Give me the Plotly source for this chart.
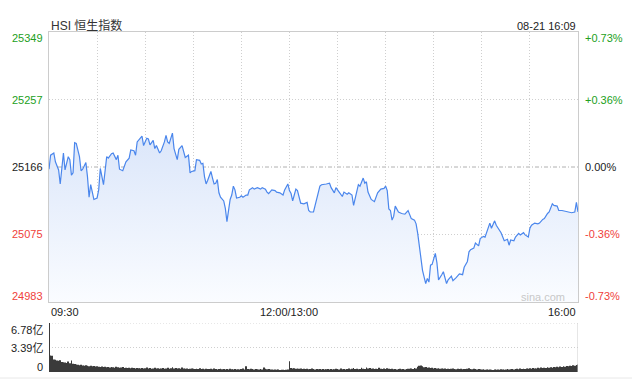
import plotly.graph_objects as go

# ---------------- data ----------------
TITLE = "HSI 恒生指数"
STAMP = "08-21 16:09"
PREV_CLOSE = 25166
Y_MIN, Y_MAX = 24983, 25349
LEFT_TICKS = [25349, 25257, 25166, 25075, 24983]
RIGHT_TICKS = ["+0.73%", "+0.36%", "0.00%", "-0.36%", "-0.73%"]
X_LABELS = ["09:30", "12:00/13:00", "16:00"]
X_LABEL_POS = [0, 150, 330]          # trading minutes since 09:30
VOL_MAX = 6.78
VOL_TICKS = ["6.78亿", "3.39亿", "0"]
VOL_TICK_VALS = [6.78, 3.39, 0]

# trading minute (0 = 09:30, 150 = 12:00/13:00, 330 = 16:00)
TIME_MIN = [0, 1, 3, 4, 6, 7, 9, 10, 12, 13, 14, 15, 16, 17, 19, 20, 21, 23, 24, 25,
            26, 27, 28, 30, 31, 32, 34, 36, 37, 39, 40, 42, 43, 44, 46, 48, 50, 51, 53, 54,
            55, 58, 59, 61, 62, 63, 65, 66, 67, 69, 70, 72, 73, 74, 75, 77, 78, 80, 81, 83,
            84, 85, 87, 88, 89, 91, 92, 94, 95, 96, 97, 98, 99, 101, 102, 103, 104, 105, 106, 107,
            109, 110, 111, 112, 113, 114, 115, 116, 117, 119, 120, 121, 123, 124, 125, 127, 128, 130, 132, 133,
            135, 136, 137, 139, 141, 142, 144, 146, 147, 149, 150, 151, 152, 153, 154, 155, 156, 157, 159, 161,
            162, 163, 165, 166, 167, 169, 170, 172, 173, 175, 176, 178, 179, 181, 183, 184, 186, 187, 189, 190,
            192, 193, 194, 196, 197, 198, 199, 200, 201, 203, 204, 205, 207, 209, 210, 211, 212, 213, 214, 215,
            216, 218, 220, 222, 224, 225, 226, 228, 229, 230, 231, 232, 233, 235, 236, 237, 238, 239, 240, 241,
            242, 243, 245, 246, 248, 249, 251, 252, 254, 255, 256, 258, 259, 261, 262, 263, 265, 266, 268, 269,
            271, 272, 274, 275, 276, 278, 279, 281, 282, 284, 286, 287, 288, 290, 291, 293, 294, 296, 297, 299,
            300, 301, 303, 305, 306, 308, 309, 311, 312, 314, 315, 317, 318, 320, 322, 324, 326, 328, 329, 330]

PRICE = [25163, 25182, 25185, 25173, 25162, 25143, 25185, 25162, 25180, 25176, 25155, 25158, 25199, 25198, 25180, 25161, 25163, 25172, 25153, 25125,
         25142, 25130, 25122, 25124, 25135, 25164, 25142, 25180, 25178, 25184, 25185, 25176, 25182, 25163, 25161, 25173, 25178, 25189, 25188, 25182,
         25200, 25208, 25195, 25205, 25204, 25196, 25202, 25191, 25195, 25185, 25188, 25200, 25209, 25200, 25198, 25212, 25191, 25176, 25190, 25195,
         25187, 25179, 25182, 25158, 25160, 25161, 25176, 25175, 25170, 25171, 25153, 25143, 25148, 25160, 25151, 25143, 25144, 25149, 25131, 25125,
         25120, 25110, 25092, 25108, 25122, 25128, 25140, 25135, 25124, 25125, 25127, 25125, 25128, 25128, 25135, 25138, 25136, 25138, 25136, 25138,
         25136, 25132, 25130, 25135, 25134, 25132, 25131, 25128, 25135, 25143, 25134, 25130, 25120, 25128, 25136, 25134, 25125, 25117, 25116, 25118,
         25107, 25105, 25105, 25114, 25124, 25140, 25142, 25142, 25143, 25144, 25138, 25131, 25138, 25132, 25126, 25132, 25129, 25131, 25128, 25114,
         25135, 25142, 25140, 25151, 25144, 25146, 25132, 25126, 25122, 25119, 25126, 25131, 25136, 25137, 25140, 25134, 25109, 25107, 25094, 25099,
         25113, 25105, 25103, 25102, 25107, 25102, 25096, 25094, 25089, 25076, 25058, 25044, 25026, 25008, 25015, 25010, 25033, 25034, 25042, 25049,
         25036, 25013, 25020, 25024, 25008, 25013, 25018, 25012, 25016, 25018, 25021, 25020, 25030, 25038, 25051, 25054, 25056, 25063, 25059, 25069,
         25072, 25071, 25082, 25090, 25083, 25093, 25087, 25081, 25077, 25066, 25068, 25060, 25067, 25066, 25071, 25076, 25074, 25077, 25074, 25071,
         25083, 25087, 25090, 25089, 25090, 25095, 25096, 25103, 25105, 25116, 25114, 25113, 25107, 25107, 25106, 25106, 25104, 25105, 25118, 25105]

# volume per trading minute, in 亿 (minute 0 .. 330)
VOLUME = [6.78,
          2.30, 2.25, 1.72, 1.68, 1.60, 1.55, 1.62, 1.40, 1.35,
          1.30, 1.25, 1.45, 1.20, 1.58, 1.15, 1.10, 1.05, 1.00, 0.95,
          1.02, 0.90, 0.88, 0.92, 0.85, 0.80, 0.86, 0.78, 0.82, 0.75,
          0.80, 0.72, 0.70, 0.76, 0.68, 0.74, 0.66, 0.70, 0.62, 0.68,
          0.65, 0.60, 0.72, 0.64, 0.58, 0.62, 0.70, 0.56, 0.60, 0.55,
          0.58, 0.52, 0.60, 0.55, 0.50, 0.57, 0.53, 0.48, 0.55, 0.50,
          0.52, 0.62, 0.48, 0.54, 0.46, 0.50, 0.58, 0.47, 0.52, 0.45,
          0.50, 0.55, 0.44, 0.48, 0.60, 0.46, 0.52, 0.66, 0.50, 0.55,
          0.48, 0.52, 0.45, 0.62, 0.50, 0.44, 0.48, 0.42, 0.46, 0.50,
          0.44, 0.40, 0.46, 0.42, 0.52, 0.40, 0.44, 0.38, 0.46, 0.42,
          0.40, 0.44, 0.38, 0.50, 0.42, 0.36, 0.40, 0.46, 0.38, 0.42,
          0.36, 0.40, 0.34, 0.44, 0.38, 0.36, 0.40, 0.34, 0.38, 0.36,
          0.40, 0.48, 0.36, 0.78, 0.42, 0.38, 0.46, 0.40, 0.36, 0.42,
          0.38, 0.34, 0.40, 0.36, 0.62, 0.44, 0.38, 0.42, 0.36, 0.34,
          0.32, 0.36, 0.30, 0.34, 0.28, 0.32, 0.30, 0.26, 0.30, 0.34,
          1.48,
          0.55, 0.48, 0.52, 0.46, 0.50, 0.44, 0.48, 0.42, 0.46,
          0.40, 0.44, 0.38, 0.42, 0.50, 0.40, 0.36, 0.42, 0.38, 0.40,
          0.36, 0.40, 0.34, 0.38, 0.42, 0.36, 0.40, 0.34, 0.38, 0.44,
          0.40, 0.36, 0.48, 0.38, 0.42, 0.36, 0.40, 0.50, 0.38, 0.44,
          0.54, 0.40, 0.46, 0.38, 0.42, 0.58, 0.44, 0.40, 0.62, 0.48,
          0.56, 0.44, 0.50, 0.40, 0.46, 0.42, 0.60, 0.44, 0.40, 0.48,
          0.42, 0.52, 0.46, 0.40, 0.44, 0.38, 0.42, 0.36, 0.40, 0.44,
          0.38, 0.42, 0.36, 0.40, 0.46, 0.44, 0.50, 0.42, 0.56, 0.48,
          0.72, 0.85, 0.90, 0.78, 0.66, 0.70, 0.58, 0.62, 0.54, 0.60,
          0.50, 0.56, 0.48, 0.52, 0.46, 0.50, 0.44, 0.48, 0.42, 0.46,
          0.40, 0.44, 0.50, 0.42, 0.38, 0.46, 0.40, 0.44, 0.38, 0.42,
          0.40, 0.46, 0.52, 0.42, 0.38, 0.44, 0.40, 0.36, 0.42, 0.38,
          0.34, 0.38, 0.32, 0.36, 0.30, 0.34, 0.32, 0.28, 0.34, 0.30,
          0.36, 0.32, 0.38, 0.34, 0.30, 0.36, 0.40, 0.34, 0.38, 0.42,
          0.36, 0.40, 0.44, 0.38, 0.48, 0.42, 0.46, 0.40, 0.50, 0.44,
          0.52, 0.46, 0.56, 0.50, 0.48, 0.58, 0.52, 0.62, 0.54, 0.60,
          0.56, 0.64, 0.58, 0.66, 0.60, 0.70, 0.64, 0.72, 0.66, 0.76,
          0.70, 0.80, 0.74, 0.84, 0.78, 0.88, 0.82, 0.92, 0.86, 0.96,
          1.05]

assert len(TIME_MIN) == len(PRICE), (len(TIME_MIN), len(PRICE))
VOL_MIN = list(range(len(VOLUME)))
T_END = 330

# ---------------- styling ----------------
FONT = "Liberation Sans, Arial, Noto Sans CJK SC, sans-serif"
GREEN = "#22a022"
RED = "#f0413a"
DARK = "#222222"
BORDER = "#cccccc"
GRID = "#cfcfcf"
DOT = "1px,2px"

W, H = 632, 379
ML, MR, MT, MB = 49, 54, 32, 7
PH = H - MT - MB  # plot area height in px


def py(pix):
    """pixel row -> paper y"""
    return (H - MB - pix) / PH


MAIN_BOTTOM = py(302)
VOL_TOP = py(323)

fig = go.Figure()

# baseline for filled area
fig.add_trace(go.Scatter(
    x=TIME_MIN, y=[Y_MIN] * len(TIME_MIN), mode="lines",
    line=dict(width=0, color="rgba(0,0,0,0)"), hoverinfo="skip",
    showlegend=False, xaxis="x", yaxis="y"))

fig.add_trace(go.Scatter(
    x=TIME_MIN, y=PRICE, mode="lines",
    line=dict(color="#4a86ec", width=1.2),
    fill="tonexty",
    fillgradient=dict(type="vertical",
                      colorscale=[[0, "#fafcff"], [1, "#dbe6fa"]],
                      start=Y_MIN, stop=max(PRICE)),
    showlegend=False, xaxis="x", yaxis="y"))

fig.add_trace(go.Bar(
    x=VOL_MIN, y=VOLUME, width=0.5,
    marker=dict(color="#3a3a3a", line=dict(width=0)),
    showlegend=False, xaxis="x2", yaxis="y2"))

ann = []
left_colors = [GREEN, GREEN, DARK, RED, RED]
shifts = [-6, 0, 0, 0, 6]
for v, t, c, s in zip(LEFT_TICKS, RIGHT_TICKS, left_colors, shifts):
    ann.append(dict(x=-4 / 529, xref="paper", y=v, yref="y", yshift=s,
                    text=str(v), showarrow=False, xanchor="right", yanchor="middle",
                    font=dict(family=FONT, size=11, color=c)))
    ann.append(dict(x=1 + 5 / 529, xref="paper", y=v, yref="y", yshift=s,
                    text=t, showarrow=False, xanchor="left", yanchor="middle",
                    font=dict(family=FONT, size=11, color=c)))

for v, t, s in zip(VOL_TICK_VALS, VOL_TICKS, [-7, 0, 5]):
    ann.append(dict(x=-4 / 529, xref="paper", y=v, yref="y2", yshift=s,
                    text=t, showarrow=False, xanchor="right", yanchor="middle",
                    font=dict(family=FONT, size=11, color=DARK)))

for t, p, a in zip(X_LABELS, X_LABEL_POS, ["left", "center", "right"]):
    ann.append(dict(x=p, xref="x", y=py(311.5), yref="paper", text=t,
                    showarrow=False, xanchor=a, yanchor="middle",
                    font=dict(family=FONT, size=11, color=DARK)))

ann.append(dict(x=0, xref="paper", y=py(25.5), yref="paper", text=TITLE,
                showarrow=False, xanchor="left", yanchor="middle",
                font=dict(family=FONT, size=12, color="#333333")))
ann.append(dict(x=1, xref="paper", y=py(25.5), yref="paper", text=STAMP,
                showarrow=False, xanchor="right", yanchor="middle",
                font=dict(family=FONT, size=11, color=DARK)))
ann.append(dict(x=(567 - ML) / 529, xref="paper", y=py(296.5), yref="paper",
                text="sina.com", showarrow=False, xanchor="right", yanchor="middle",
                font=dict(family=FONT, size=11, color="#c8c8c8")))

shapes = [
    dict(type="line", xref="x", yref="y", x0=0, x1=T_END, y0=PREV_CLOSE, y1=PREV_CLOSE,
         line=dict(color="#b0b0b0", width=1, dash="4px,2px,1px,2px"), layer="below"),
    dict(type="line", xref="x2", yref="y2", x0=T_END, x1=T_END, y0=0, y1=VOL_MAX,
         line=dict(color=BORDER, width=1)),
    dict(type="line", xref="x2", yref="y2", x0=0, x1=T_END, y0=VOL_MAX, y1=VOL_MAX,
         line=dict(color=GRID, width=1, dash=DOT), layer="below"),
    dict(type="line", xref="paper", yref="paper", x0=-ML / 529, x1=(W - ML) / 529,
         y0=py(378), y1=py(378), line=dict(color="#e8e8e8", width=1)),
]

fig.update_layout(
    width=W, height=H,
    margin=dict(l=ML, r=MR, t=MT, b=MB, pad=0),
    paper_bgcolor="white", plot_bgcolor="white",
    showlegend=False, hovermode=False,
    annotations=ann, shapes=shapes,
    xaxis=dict(domain=[0, 1], range=[0, T_END], anchor="y",
               tickvals=list(range(0, T_END + 1, 30)), showticklabels=False, ticks="",
               showgrid=True, gridcolor=GRID, griddash=DOT, gridwidth=1,
               showline=True, mirror=True, linecolor=BORDER, linewidth=1, zeroline=False),
    yaxis=dict(domain=[MAIN_BOTTOM, 1], range=[Y_MIN, Y_MAX], anchor="x",
               tickvals=[25075, 25257], showticklabels=False, ticks="",
               showgrid=True, gridcolor=GRID, griddash=DOT, gridwidth=1,
               showline=True, mirror=True, linecolor=BORDER, linewidth=1, zeroline=False),
    xaxis2=dict(domain=[0, 1], range=[0, T_END], anchor="y2",
                showticklabels=False, ticks="", showgrid=False, showline=False, zeroline=False),
    yaxis2=dict(domain=[0, VOL_TOP], range=[0, VOL_MAX], anchor="x2",
                tickvals=[3.39], showticklabels=False, ticks="",
                showgrid=True, gridcolor=GRID, griddash=DOT, gridwidth=1,
                showline=False, zeroline=False),
)

fig.write_html("out.html")
